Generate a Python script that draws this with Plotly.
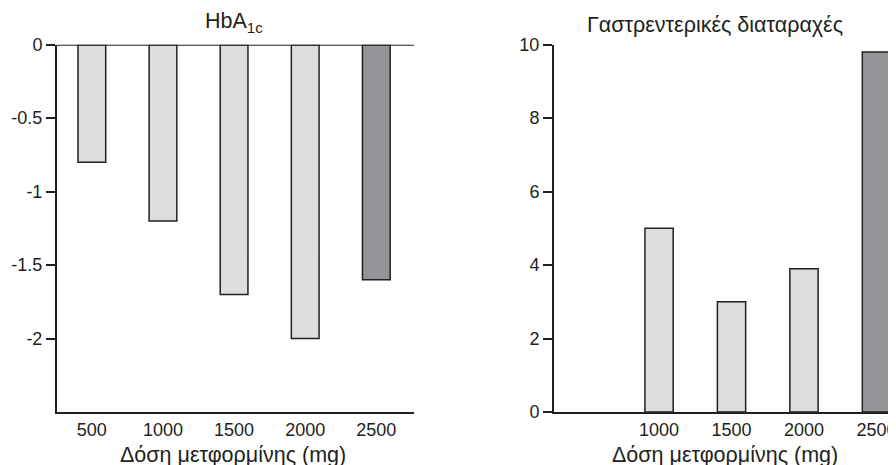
import plotly.graph_objects as go

# Data
doses = ["500", "1000", "1500", "2000", "2500"]
hba1c_change = [-0.8, -1.2, -1.7, -2.0, -1.6]
gi_disorders = [None, 5.0, 3.0, 3.9, 9.8]
left_yticks = [0, -0.5, -1, -1.5, -2]
left_yticktext = ["0", "-0.5", "-1", "-1.5", "-2"]
right_yticks = [0, 2, 4, 6, 8, 10]
right_xticks = ["1000", "1500", "2000", "2500"]
left_title = "HbA<sub>1c</sub>"
right_title = "Γαστρεντερικές διαταραχές"
x_title = "Δόση μετφορμίνης (mg)"

# page is offset by the browser's 8px body margin
OFF = 8
PW, PH = 896, 465
W, H = PW - OFF, PH - OFF
LIGHT = "#dcdddf"
DARK = "#939598"
INK = "#231f20"
FONT = "Liberation Sans, Arial, Helvetica, sans-serif"
TICK_FS = 18
TITLE_FS = 21.5

def px(x):
    return (x - OFF) / W

def py(y):
    return (PH - y) / H

bar_colors = [LIGHT, LIGHT, LIGHT, LIGHT, DARK]

fig = go.Figure()
fig.add_trace(go.Bar(x=doses, y=hba1c_change, xaxis="x", yaxis="y",
                     marker=dict(color=bar_colors, line=dict(color=INK, width=1.5)),
                     width=0.39, showlegend=False))
fig.add_trace(go.Bar(x=doses, y=gi_disorders, xaxis="x2", yaxis="y2",
                     marker=dict(color=bar_colors, line=dict(color=INK, width=1.5)),
                     width=0.39, showlegend=False))

ydom = [py(412), py(44.7)]
axis_common = dict(showgrid=False, zeroline=False, showline=True, linecolor=INK,
                   linewidth=2, automargin=False,
                   tickfont=dict(family=FONT, size=TICK_FS, color=INK))

def ann(text, x, y):
    return dict(text=text, x=px(x), y=py(y), xref="paper", yref="paper",
                showarrow=False, xanchor="center", yanchor="middle",
                font=dict(family=FONT, size=TITLE_FS, color=INK))

fig.update_layout(
    width=W, height=H,
    margin=dict(l=0, r=0, t=0, b=0, pad=0),
    paper_bgcolor="white", plot_bgcolor="white",
    font=dict(family=FONT, size=TICK_FS, color=INK),
    xaxis=dict(domain=[px(57), px(414)], type="category", range=[-0.49, 4.53],
               ticks="", anchor="y", **axis_common),
    yaxis=dict(domain=ydom, range=[-2.5, 0], tickmode="array", tickvals=left_yticks,
               ticktext=left_yticktext,
               ticks="outside", ticklen=9, tickwidth=1.5, tickcolor=INK,
               anchor="x", **axis_common),
    xaxis2=dict(domain=[px(554), 1.0], type="category", range=[-0.45, 4.27],
                tickmode="array", tickvals=right_xticks, ticktext=right_xticks,
                ticks="", anchor="y2", **axis_common),
    yaxis2=dict(domain=ydom, range=[0, 10], tickmode="array", tickvals=right_yticks,
                ticks="outside", ticklen=9, tickwidth=1.5, tickcolor=INK,
                anchor="x2", **axis_common),
    shapes=[dict(type="line", xref="x domain", yref="y", x0=0, x1=1, y0=0, y1=0,
                 line=dict(color=INK, width=2))],
    annotations=[
        ann(left_title, 234, 23),
        ann(right_title, 715, 25),
        ann(x_title, 233, 455),
        ann(x_title, 725, 455),
    ],
)

fig.write_html("out.html")
